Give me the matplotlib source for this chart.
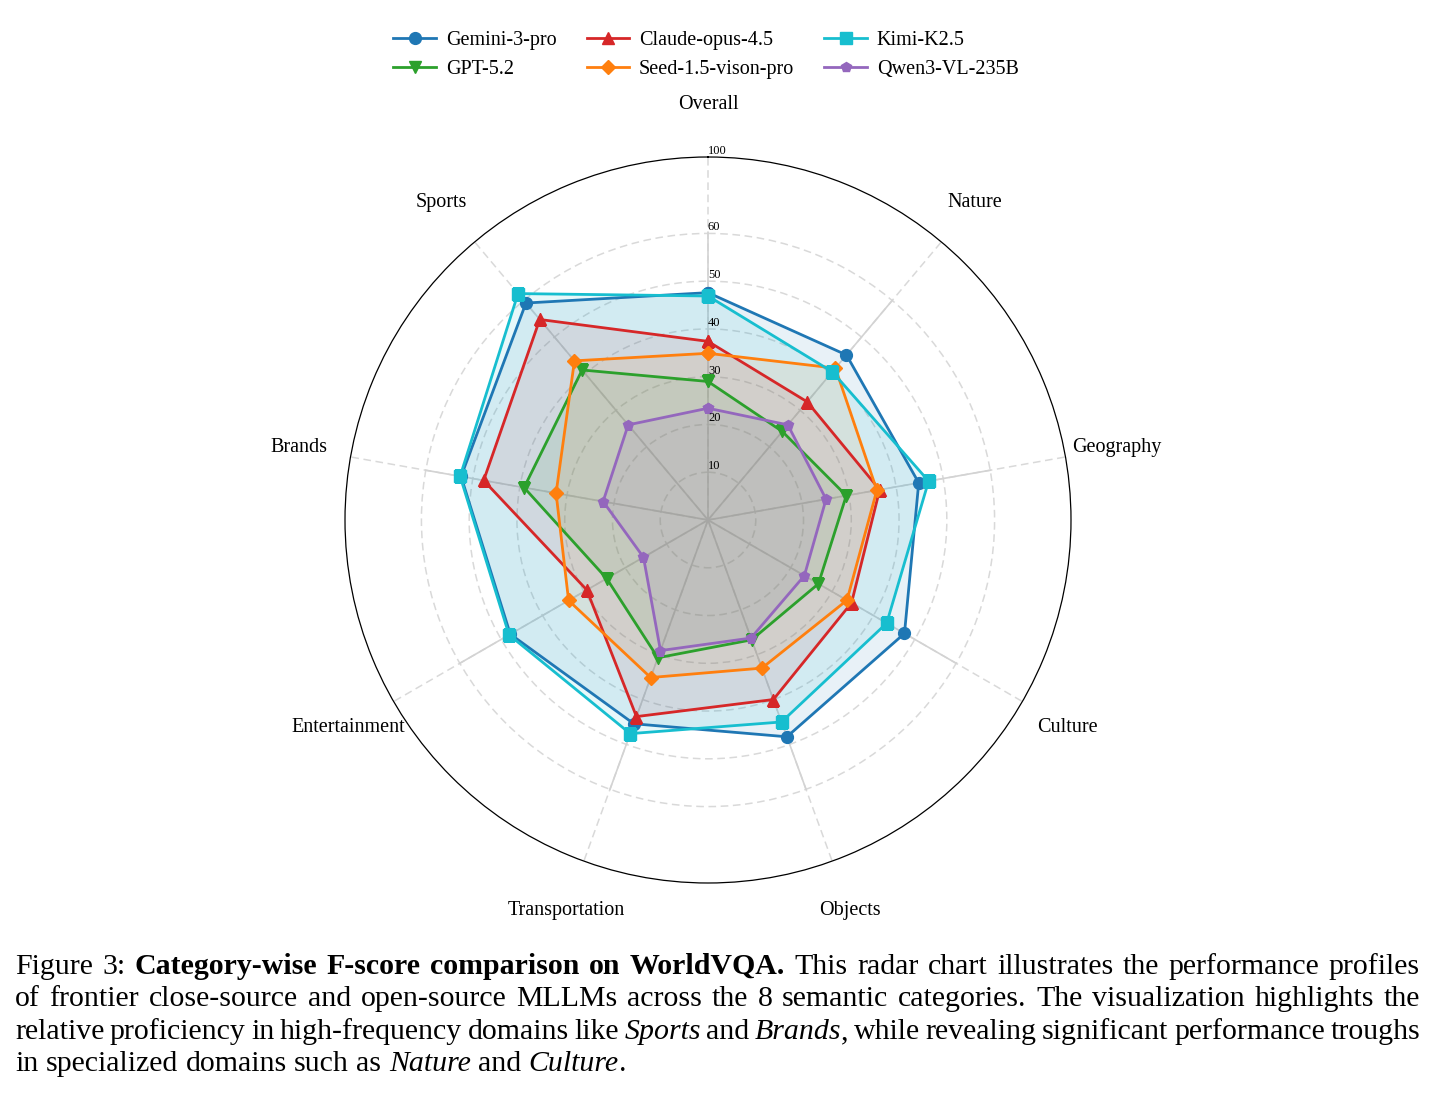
import re
import numpy as np
import matplotlib.pyplot as plt

plt.rcParams['font.family'] = ['Liberation Serif', 'DejaVu Serif']

categories = ['Overall', 'Nature', 'Geography', 'Culture', 'Objects',
              'Transportation', 'Entertainment', 'Brands', 'Sports']

models = ['Gemini-3-pro', 'GPT-5.2', 'Claude-opus-4.5',
          'Seed-1.5-vison-pro', 'Kimi-K2.5', 'Qwen3-VL-235B']

gemini = [47.6, 45.1, 44.8, 47.5, 48.3, 45.4, 47.8, 52.5, 59.3]
gpt = [29.0, 24.2, 29.4, 26.7, 26.7, 30.7, 24.5, 39.1, 41.0]
claude = [37.4, 32.3, 36.5, 34.7, 40.0, 43.8, 29.3, 47.7, 54.8]
seed = [34.9, 41.5, 35.9, 33.6, 33.0, 35.1, 33.7, 32.3, 43.5]
kimi = [46.9, 40.5, 46.9, 43.2, 45.0, 47.6, 48.1, 52.7, 64.7]
qwen = [23.4, 26.0, 25.1, 23.3, 26.3, 29.1, 15.6, 22.3, 26.0]

scores = [gemini, gpt, claude, seed, kimi, qwen]
COLOR = ['#1f77b4', '#2ca02c', '#d62728', '#ff7f0e', '#17becf', '#9467bd']
MARKER = ['o', 'v', '^', 'D', 's', 'p']
MSIZE = [8.5, 8.5, 8.5, 7.0, 8.5, 7.5]

rticks = [10, 20, 30, 40, 50, 60]

caption = [
    "Figure 3: **Category-wise F-score comparison on WorldVQA.** This radar chart illustrates the performance profiles",
    "of frontier close-source and open-source MLLMs across the 8 semantic categories. The visualization highlights the",
    "relative proficiency in high-frequency domains like *Sports* and *Brands*, while revealing significant performance troughs",
    "in specialized domains such as *Nature* and *Culture*.",
]


# radial axis: linear up to 60, compressed above (outer ring = 100)
def fwd(v):
    v = np.asarray(v, dtype=float)
    return np.where(v <= 60, v, 60 + (v - 60) * 0.4)


def inv(u):
    u = np.asarray(u, dtype=float)
    return np.where(u <= 60, u, 60 + (u - 60) / 0.4)


W, H = 1435, 1095
fig = plt.figure(figsize=(W / 100, H / 100), dpi=100)
ax = fig.add_axes([345 / W, 1 - 883 / H, 726 / W, 726 / H], projection='polar')
ax.set_theta_offset(np.pi / 2)
ax.set_theta_direction(-1)
ax.set_rscale('function', functions=(fwd, inv))
ax.set_rlim(0, 100)

angles = np.linspace(0, 2 * np.pi, len(categories), endpoint=False)

ax.set_axisbelow(True)
ax.grid(True, color='#d9d9d9', linewidth=1.1, linestyle=(0, (5, 3)))
ax.set_xticks(angles)
ax.set_xticklabels(categories, fontsize=14.5)
ax.tick_params(axis='x', pad=30.5, length=0)
ax.set_yticks(rticks)
ax.set_yticklabels([])
ax.tick_params(axis='y', length=0)
ax.spines['polar'].set_color('black')
ax.spines['polar'].set_linewidth(0.9)

for a in angles:
    ax.plot([a, a], [0, 60], color='#d3d3d3', linewidth=1.2, zorder=0.6)

for t in rticks + [100]:
    ax.text(0, t, str(t), ha='left', va='bottom', fontsize=9, zorder=5)

closed = np.concatenate([angles, angles[:1]])
handles = []
for name, vals, c, m, ms in zip(models, scores, COLOR, MARKER, MSIZE):
    v = list(vals) + [vals[0]]
    ax.fill(closed, v, color=c, alpha=0.1, linewidth=0)
    ln, = ax.plot(closed, v, color=c, linewidth=2, marker=m, markersize=ms, label=name)
    handles.append(ln)

fig.legend(handles=handles, ncol=3, loc='center', bbox_to_anchor=(706 / W, 1 - 55 / H),
           frameon=False, fontsize=14.5, handlelength=2.1, handletextpad=0.5,
           columnspacing=1.5, labelspacing=0.45)

# justified caption
renderer = fig.canvas.get_renderer()
cap_size = 21.5
x_left, x_right = 15, 1420
baselines = [974, 1006, 1039, 1071]
for li, line in enumerate(caption):
    bold = italic = False
    words = []
    for token in line.split(' '):
        segs = []
        for piece in re.split(r'(\*\*|\*)', token):
            if piece == '**':
                bold = not bold
            elif piece == '*':
                italic = not italic
            elif piece:
                segs.append((piece, bold, italic))
        words.append(segs)
    y = 1 - baselines[li] / H
    objs = []
    for segs in words:
        wobjs = []
        for piece, b, it in segs:
            t = fig.text(0, y, piece, fontsize=cap_size, va='baseline', ha='left',
                         fontweight='bold' if b else 'normal',
                         fontstyle='italic' if it else 'normal')
            wobjs.append((t, t.get_window_extent(renderer).width))
        objs.append(wobjs)
    widths = [sum(w for _, w in wobjs) for wobjs in objs]
    if li < len(caption) - 1:
        gap = (x_right - x_left - sum(widths)) / (len(widths) - 1)
    else:
        gap = cap_size * 100 / 72 * 0.25
    x = x_left
    for wobjs, wsum in zip(objs, widths):
        xx = x
        for t, w in wobjs:
            t.set_x(xx / W)
            xx += w
        x += wsum + gap

fig.savefig('out.png', dpi=100)
